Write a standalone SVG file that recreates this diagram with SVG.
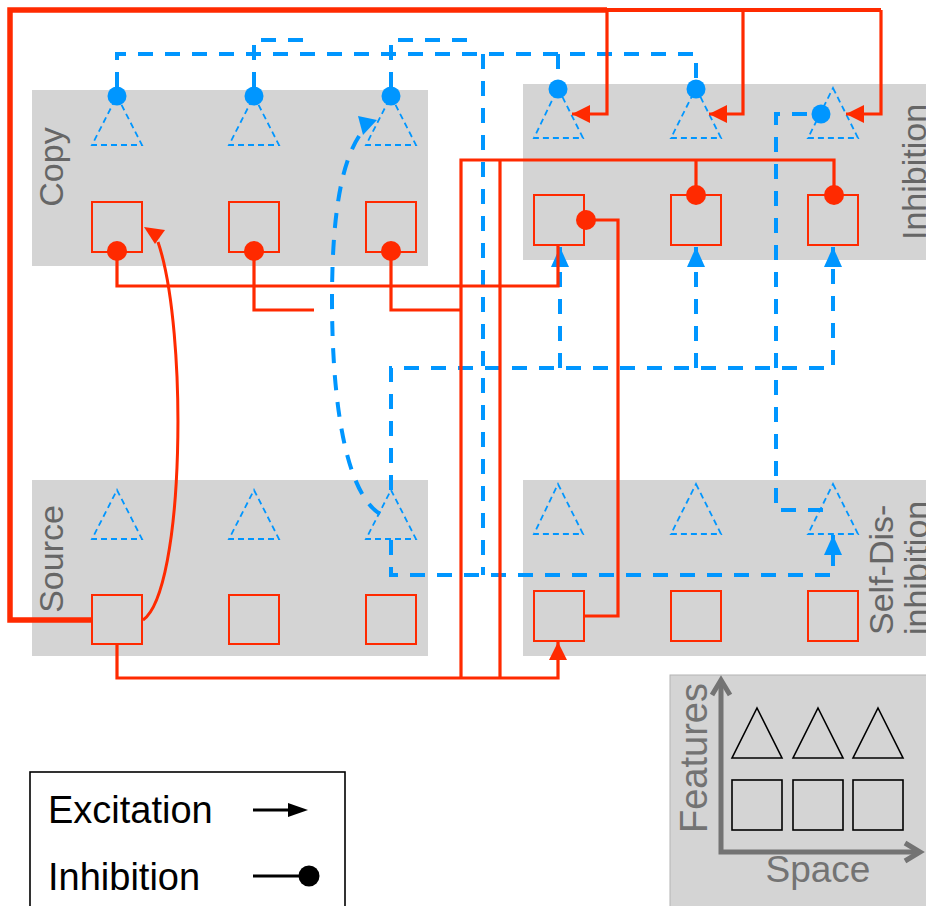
<svg xmlns="http://www.w3.org/2000/svg" width="926" height="906" viewBox="0 0 926 906">
<style>
.panel{fill:#d4d4d4}
.lbl{font-family:"Liberation Sans",Arial,sans-serif;font-size:34px;fill:#666}
.sq{fill:none;stroke:#ff2a00;stroke-width:2}
.tri{fill:none;stroke:#0096ff;stroke-width:1.8;stroke-dasharray:6 4}
.red{fill:none;stroke:#ff2a00;stroke-width:3.2}
.blue{fill:none;stroke:#0096ff;stroke-width:4;stroke-dasharray:15 12}
.rdot{fill:#ff2a00}
.bdot{fill:#0096ff}
.blk{fill:none;stroke:#000;stroke-width:1.6}
.leg{font-family:"Liberation Sans",Arial,sans-serif;font-size:38px;fill:#000}
.ax{fill:none;stroke:#737373;stroke-width:5}
.axl{font-family:"Liberation Sans",Arial,sans-serif;font-size:38px;fill:#737373}
</style>
<defs>
<marker id="ra" markerUnits="userSpaceOnUse" markerWidth="18" markerHeight="18" refX="18" refY="9" orient="auto" viewBox="0 0 18 18"><path d="M0,0 L18,9 L0,18 z" fill="#ff2a00"/></marker>
<marker id="ba" markerUnits="userSpaceOnUse" markerWidth="20" markerHeight="18" refX="20" refY="9" orient="auto" viewBox="0 0 20 18"><path d="M0,0 L20,9 L0,18 z" fill="#0096ff"/></marker>
</defs>

<g id="copy">
<rect class="panel" x="32" y="90" width="396" height="176"/>
<text class="lbl" text-anchor="middle" transform="translate(63,167) rotate(-90)">Copy</text>
<g id="copy-f1"><path class="tri" d="M117,96 L142,145 L92,145 Z"/><rect class="sq" x="92" y="202" width="50" height="50"/></g>
<g id="copy-f2"><path class="tri" d="M254,96 L279,145 L229,145 Z"/><rect class="sq" x="229" y="202" width="50" height="50"/></g>
<g id="copy-f3"><path class="tri" d="M391,96 L416,145 L366,145 Z"/><rect class="sq" x="366" y="202" width="50" height="50"/></g>
</g>

<g id="inhibition">
<rect class="panel" x="523" y="84" width="403" height="176"/>
<text class="lbl" text-anchor="middle" transform="translate(926,172) rotate(-90)">Inhibition</text>
<g id="inh-f1"><path class="tri" d="M558,88 L583,138 L534,138 Z"/><rect class="sq" x="534" y="195" width="50" height="50"/></g>
<g id="inh-f2"><path class="tri" d="M696,88 L721,138 L671,138 Z"/><rect class="sq" x="671" y="195" width="50" height="50"/></g>
<g id="inh-f3"><path class="tri" d="M833,88 L858,138 L808,138 Z"/><rect class="sq" x="808" y="195" width="50" height="50"/></g>
</g>

<g id="source">
<rect class="panel" x="32" y="480" width="396" height="176"/>
<text class="lbl" text-anchor="middle" transform="translate(63,559) rotate(-90)">Source</text>
<g id="src-f1"><path class="tri" d="M117,490 L142,539 L92,539 Z"/><rect class="sq" x="92" y="595" width="50" height="49"/></g>
<g id="src-f2"><path class="tri" d="M254,490 L279,539 L229,539 Z"/><rect class="sq" x="229" y="595" width="50" height="49"/></g>
<g id="src-f3"><path class="tri" d="M391,490 L416,539 L366,539 Z"/><rect class="sq" x="366" y="595" width="50" height="49"/></g>
</g>

<g id="selfdis">
<rect class="panel" x="523" y="480" width="403" height="176"/>
<text class="lbl" transform="translate(893,635) rotate(-90)">Self-Dis-</text>
<text class="lbl" transform="translate(928,635) rotate(-90)">inhibition</text>
<g id="sd-f1"><path class="tri" d="M558,484 L583,534 L534,534 Z"/><rect class="sq" x="534" y="591" width="50" height="50"/></g>
<g id="sd-f2"><path class="tri" d="M696,484 L721,534 L671,534 Z"/><rect class="sq" x="671" y="591" width="50" height="50"/></g>
<g id="sd-f3"><path class="tri" d="M833,484 L858,534 L808,534 Z"/><rect class="sq" x="808" y="591" width="50" height="50"/></g>
</g>

<g id="connectors">
<path class="blue" d="M117,87 L117,54 L696,54 L696,80"/>
<path class="blue" d="M558,54 L558,80"/>
<path class="blue" d="M391,87 L391,40 L468,40"/>
<path class="blue" d="M254,87 L254,40 L313,40"/>
<path class="blue" d="M483,54 L483,575"/>
<path class="blue" d="M391,490 L391,368 L833,368 L833,247" marker-end="url(#ba)"/>
<path class="blue" d="M560,368 L560,247" marker-end="url(#ba)"/>
<path class="blue" d="M696,368 L696,247" marker-end="url(#ba)"/>
<path class="blue" d="M391,540 L391,575 L833,575 L833,535" marker-end="url(#ba)"/>
<path class="blue" d="M823,510 L776,510 L776,114 L812,114"/>
<path class="blue" d="M380,514 C345,492 332,400 332,300 C332,200 345,150 366,127"/>
<polygon class="bdot" points="358,116 377,120 363,135"/>
<circle class="bdot" cx="117" cy="96" r="9.5"/>
<circle class="bdot" cx="254" cy="96" r="9.5"/>
<circle class="bdot" cx="391" cy="96" r="9.5"/>
<circle class="bdot" cx="558" cy="89" r="9.5"/>
<circle class="bdot" cx="696" cy="89" r="9.5"/>
<circle class="bdot" cx="821" cy="114" r="9.5"/>
<path class="red" style="stroke-width:5.5" d="M92,620 L10,620 L10,10 L607,10"/>
<path class="red" style="stroke-width:4" d="M605,10 L881,10"/>
<path class="red" d="M607,10 L607,114 L572,114" marker-end="url(#ra)"/>
<path class="red" d="M743,10 L743,114 L709,114" marker-end="url(#ra)"/>
<path class="red" d="M881,10 L881,114 L846,114" marker-end="url(#ra)"/>
<path class="red" d="M117,251 L117,286 L558,286 L558,245"/>
<path class="red" d="M254,251 L254,310 L314,310"/>
<path class="red" d="M391,251 L391,310 L461,310"/>
<path class="red" d="M117,644 L117,678 L558,678 L558,642" marker-end="url(#ra)"/>
<path class="red" d="M461,678 L461,160 L834,160 L834,190"/>
<path class="red" d="M696,160 L696,190"/>
<path class="red" d="M500,678 L500,160"/>
<path class="red" d="M584,616 L618,616 L618,220 L592,220"/>
<path class="red" style="stroke-width:3" d="M143,620 C185,590 188,330 158,242"/>
<polygon class="rdot" points="144,227 165,230 155,244"/>
<circle class="rdot" cx="117" cy="251" r="10"/>
<circle class="rdot" cx="254" cy="251" r="10"/>
<circle class="rdot" cx="391" cy="251" r="10"/>
<circle class="rdot" cx="696" cy="195" r="10"/>
<circle class="rdot" cx="834" cy="195" r="10"/>
<circle class="rdot" cx="586" cy="220" r="10"/>
</g>

<g id="axes">
<rect x="670" y="675" width="260" height="235" fill="#d4d4d4" stroke="#b4b4b4" stroke-width="1"/>
<path class="blk" d="M757,708 L782,758 L732,758 Z"/>
<path class="blk" d="M818,708 L843,758 L793,758 Z"/>
<path class="blk" d="M878,708 L903,758 L853,758 Z"/>
<rect class="blk" x="732" y="780" width="50" height="50"/>
<rect class="blk" x="793" y="780" width="50" height="50"/>
<rect class="blk" x="853" y="780" width="50" height="50"/>
<path class="ax" d="M721,680 L721,852 L920,852"/>
<polyline class="ax" points="712,695 721,680 730,695"/>
<polyline class="ax" points="905,843 920,852 905,861"/>
<text class="axl" text-anchor="middle" transform="translate(707,758) rotate(-90)">Features</text>
<text class="axl" x="818" y="882" text-anchor="middle" style="font-size:37px">Space</text>
</g>

<g id="legend">
<rect x="30" y="772" width="315" height="150" fill="#fff" stroke="#000" stroke-width="1.6"/>
<text class="leg" x="48" y="823">Excitation</text>
<text class="leg" x="48" y="890">Inhibition</text>
<line x1="253" y1="810" x2="291" y2="810" stroke="#000" stroke-width="3"/>
<polygon points="288,803 308,810 288,817" fill="#000"/>
<line x1="253" y1="876" x2="302" y2="876" stroke="#000" stroke-width="3"/>
<circle cx="309" cy="876" r="10.5" fill="#000"/>
</g>
</svg>
